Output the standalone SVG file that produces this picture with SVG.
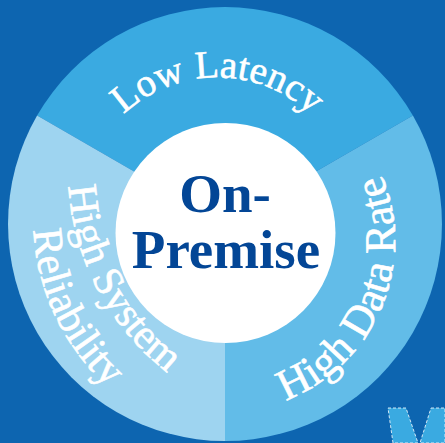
<svg xmlns="http://www.w3.org/2000/svg" width="445" height="443" viewBox="0 0 445 443">
  <style>
    .seg-label { font-family: "Liberation Serif", "Times New Roman", serif; fill: #ffffff; stroke: #ffffff; stroke-width: 0.6px; }
    .core { font-family: "Liberation Serif", "Times New Roman", serif; fill: #034696; text-anchor: middle; font-size: 55px; font-weight: bold; }
  </style>
  <defs>
    <path id="arcTop" d="M81.6,196.7 A136.5,136.5 0 0,1 350.2,184"/>
    <path id="arcRight" d="M221,412 A171,171 0 0,0 336.2,112"/>
    <path id="arcLeftInner" d="M106.6,36.4 A254,254 0 0,0 313.1,424.8"/>
    <path id="arcLeftOuter" d="M79.6,79.6 A229,229 0 0,0 233.3,445.2"/>
  </defs>
  <rect x="0" y="0" width="445" height="443" fill="#0d65b0"/>

  <g id="segment-low-latency">
    <path d="M225,224 L37.1,115.5 A217,217 0 0,1 412.9,115.5 Z" fill="#3aaae1"/>
    <text class="seg-label" font-size="39" transform="rotate(3 217 214)"><textPath href="#arcTop" startOffset="50%" text-anchor="middle">Low Latency</textPath></text>
  </g>
  <g id="segment-high-data-rate">
    <path d="M225,224 L412.9,115.5 A217,217 0 0,1 225,441 Z" fill="#62bce8"/>
    <text class="seg-label" font-size="44" transform="rotate(2 224 241)"><textPath href="#arcRight" startOffset="50%" text-anchor="middle">High Data Rate</textPath></text>
  </g>
  <g id="segment-high-system-reliability">
    <path d="M225,224 L225,441 A217,217 0 0,1 37.1,115.5 Z" fill="#9ed4f0"/>
    <text class="seg-label" font-size="42"><textPath href="#arcLeftInner" startOffset="50%" text-anchor="middle">High System</textPath></text>
    <text class="seg-label" font-size="42.5" transform="rotate(-2.6 262 218)"><textPath href="#arcLeftOuter" startOffset="50%" text-anchor="middle">Reliability</textPath></text>
  </g>
  <g id="core-on-premise">
    <circle cx="225.5" cy="233" r="110" fill="#ffffff"/>
    <text class="core" x="225" y="212">On-</text>
    <text class="core" x="226" y="268">Premise</text>
  </g>
  <g id="corner-fragment" fill="#3aaae1" stroke="#ffffff" stroke-width="0.8" stroke-dasharray="3,2">
    <polygon points="388,408 406,408 418,443 393,443"/>
    <polygon points="431,408 445,408 445,443 420,443"/>
  </g>
  <g id="connectors"></g>
</svg>
